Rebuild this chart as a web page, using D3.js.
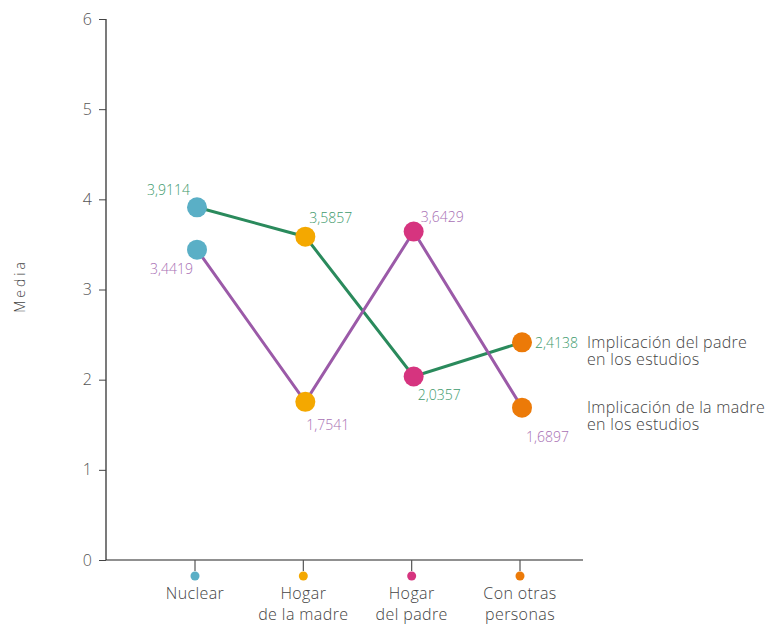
<!DOCTYPE html>
<html><head><meta charset="utf-8">
<script src="https://cdn.jsdelivr.net/npm/d3@7"></script>
<style>body{margin:0;background:#fff}svg{display:block}text{font-family:"Open Sans",Lato,sans-serif;font-weight:300}</style>
</head><body><svg id="c" width="771" height="625"></svg>
<script>
const categories = [["Nuclear"],["Hogar","de la madre"],["Hogar","del padre"],["Con otras","personas"]];
const catColors = ["#5aafc6","#f4a800","#d6347f","#ec7a08"];
const padre = [3.9114, 3.5857, 2.0357, 2.4138];
const madre = [3.4419, 1.7541, 3.6429, 1.6897];
const yTicks = [0,1,2,3,4,5,6];
const seriesNames = [["Implicación del padre","en los estudios"],["Implicación de la madre","en los estudios"]];
const seriesColors = ["#2a8a5c","#9b5aa8"];
const labelColors = ["#3d9a6c","#a870b4"];

const svg = d3.select("#c");
const y = d3.scaleLinear().domain([0,6]).range([560,19]);
const x = d3.scalePoint().domain(d3.range(4)).range([197,522]);
const fmt = v => v.toFixed(4).replace(".", ",");

// y axis
const yAxis = svg.append("g").attr("transform","translate(106,0)")
  .call(d3.axisLeft(y).tickValues(yTicks).tickSize(7).tickPadding(7).tickFormat(d3.format("d")));
yAxis.select(".domain").attr("d", `M0,${y(6)}V${y(0)}`).attr("stroke","#222").attr("stroke-width",1.2);
yAxis.selectAll(".tick line").attr("stroke","#444");
yAxis.selectAll(".tick text").attr("font-size",16).attr("fill","#555").attr("font-family","'Open Sans',sans-serif");

// x axis line
svg.append("line").attr("x1",106).attr("x2",583).attr("y1",y(0)).attr("y2",y(0)).attr("stroke","#222").attr("stroke-width",1.2);

// category ticks + dots + labels
const cg = svg.append("g").selectAll("g").data(categories).join("g")
  .attr("transform",(d,i)=>`translate(${x(i)-2},${y(0)})`);
cg.append("line").attr("y1",0).attr("y2",11).attr("stroke","#555").attr("stroke-width",1.2);
cg.append("circle").attr("cy",16).attr("r",4.5).attr("fill",(d,i)=>catColors[i]);
cg.append("text").attr("text-anchor","middle").attr("font-size",16).attr("letter-spacing",0.4).attr("fill","#444")
  .selectAll("tspan").data(d=>d).join("tspan").attr("x",0).attr("y",(d,j)=>39+j*21).text(d=>d);

// axis title
svg.append("text").attr("transform","translate(25,286) rotate(-90)").attr("text-anchor","middle")
  .attr("font-size",14).attr("letter-spacing",3).attr("fill","#444").text("Media");

const series = [padre, madre];
const line = d3.line().x((d,i)=>x(i)).y(d=>y(d));
series.forEach((s,k)=>{
  svg.append("path").datum(s).attr("d",line).attr("fill","none")
    .attr("stroke",seriesColors[k]).attr("stroke-width",3);
});
series.forEach((s,k)=>{
  svg.append("g").selectAll("circle").data(s).join("circle")
    .attr("cx",(d,i)=>x(i)).attr("cy",d=>y(d)).attr("r",10).attr("fill",(d,i)=>catColors[i]);
});

// value labels: [dx, dy, anchor]
const padreOff = [[-7,-12,"end"],[4,-14,"start"],[4,24,"start"],[13,6,"start"]];
const madreOff = [[-4,24,"end"],[1,28,"start"],[7,-10,"start"],[4,34,"start"]];
[[padre,padreOff],[madre,madreOff]].forEach(([s,off],k)=>{
  svg.append("g").selectAll("text").data(s).join("text")
    .attr("x",(d,i)=>x(i)+off[i][0]).attr("y",(d,i)=>y(d)+off[i][1])
    .attr("text-anchor",(d,i)=>off[i][2]).attr("font-size",14).attr("fill",labelColors[k])
    .text(fmt);
});

// legend
const legY = [348, 413];
seriesNames.forEach((n,k)=>{
  svg.append("text").attr("font-size",16).attr("letter-spacing",0.3).attr("fill","#444")
    .selectAll("tspan").data(n).join("tspan").attr("x",587).attr("y",(d,j)=>legY[k]+j*16.5).text(d=>d);
});
</script></body></html>
